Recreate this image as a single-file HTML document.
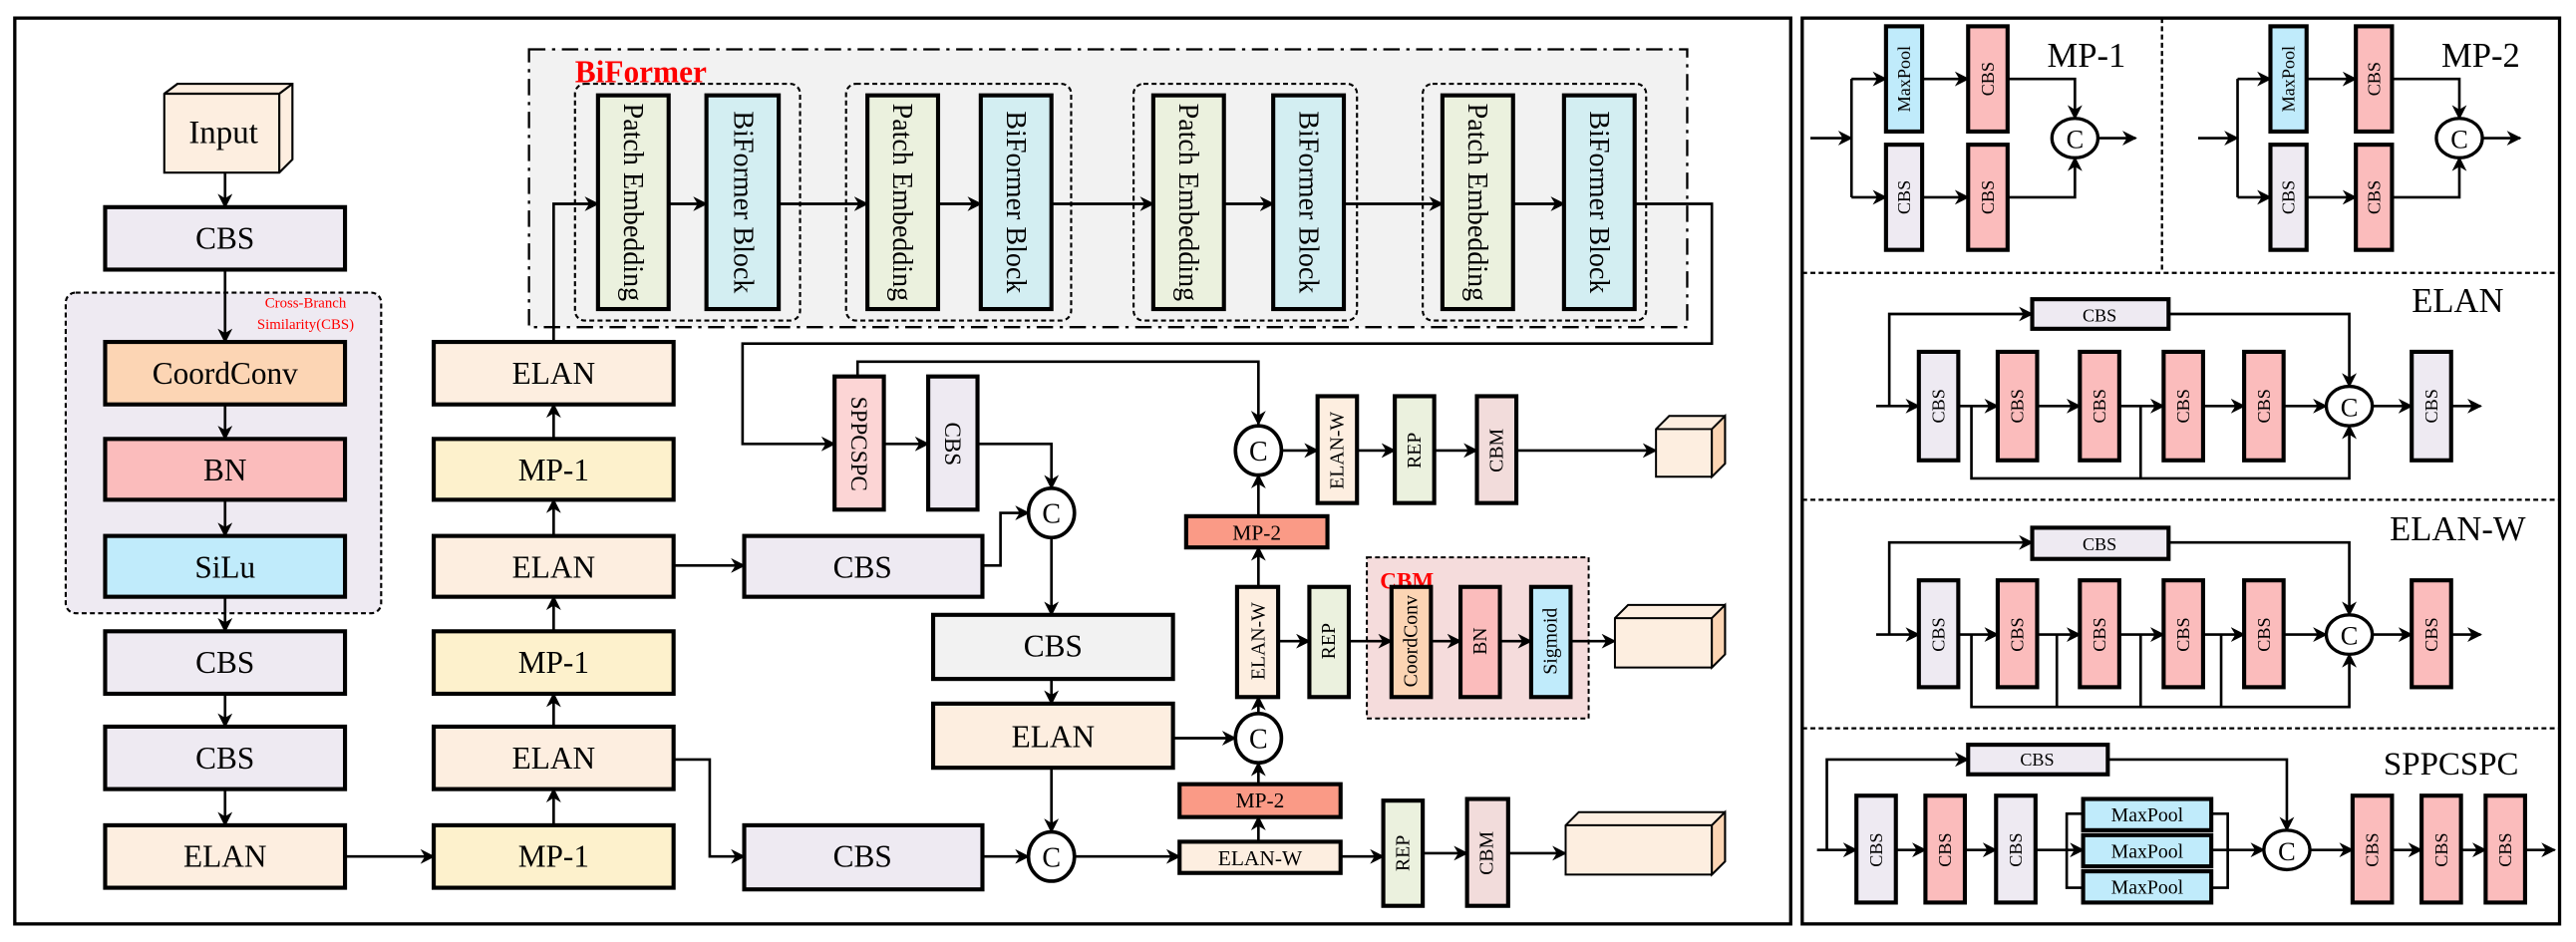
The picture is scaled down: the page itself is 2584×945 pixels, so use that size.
<!DOCTYPE html>
<html><head><meta charset="utf-8"><style>
html,body{margin:0;padding:0;background:#fff}
svg{display:block}
text{font-family:"Liberation Serif",serif;fill:#000}
</style></head><body>
<svg width="2584" height="945" viewBox="0 0 1568 573" preserveAspectRatio="none" xmlns="http://www.w3.org/2000/svg">
<defs>
<marker id="a" viewBox="0 0 10 10" refX="9" refY="5" markerWidth="5" markerHeight="5" orient="auto-start-reverse" markerUnits="userSpaceOnUse"><path d="M0,0 L10,5 L0,10 L3,5 z" fill="#000"/></marker>
<marker id="b" viewBox="0 0 10 10" refX="9" refY="5" markerWidth="9" markerHeight="9" orient="auto" markerUnits="userSpaceOnUse"><path d="M0,0 L10,5 L0,10 L3,5 z" fill="#000"/></marker>
</defs>
<style>
.bx{stroke:#000;stroke-width:2.5}
.l{stroke:#000;stroke-width:1.6;fill:none;marker-end:url(#b)}
.n{stroke:#000;stroke-width:1.6;fill:none}
.t{font-size:19px;text-anchor:middle;dominant-baseline:central}
.v{font-size:14px;text-anchor:middle;dominant-baseline:central}
.s{font-size:11px;text-anchor:middle;dominant-baseline:central}
</style>
<!-- frames -->
<rect x="9" y="11" width="1081" height="551" fill="none" stroke="#000" stroke-width="2"/>
<rect x="1097" y="11" width="461" height="551" fill="none" stroke="#000" stroke-width="2"/>

<!-- Left column -->
<path d="M100,57 L108,51 L178,51 L178,97 L170,105 L100,105 Z" fill="#fdeee0" stroke="#000" stroke-width="1.3"/>
<path d="M100,57 L170,57 L170,105 M170,57 L178,51" fill="none" stroke="#000" stroke-width="1.3"/>
<text x="136" y="81" class="t" style="font-size:20px">Input</text>
<line x1="137" y1="105" x2="137" y2="126" class="l"/>
<rect x="64" y="126" width="146" height="38" fill="#eeeaf2" class="bx"/><text x="137" y="145" class="t">CBS</text>
<rect x="40" y="178" width="192" height="195" rx="6" fill="#eeeaf2" stroke="#000" stroke-width="1.3" stroke-dasharray="3,2"/>
<text x="186" y="187" style="font-size:9px;fill:#f00;text-anchor:middle">Cross-Branch</text>
<text x="186" y="200" style="font-size:9px;fill:#f00;text-anchor:middle">Similarity(CBS)</text>
<line x1="137" y1="164" x2="137" y2="208" class="l"/>
<rect x="64" y="208" width="146" height="38" fill="#fcd5b4" class="bx"/><text x="137" y="227" class="t">CoordConv</text>
<line x1="137" y1="246" x2="137" y2="267" class="l"/>
<rect x="64" y="267" width="146" height="37" fill="#fbbcbc" class="bx"/><text x="137" y="286" class="t">BN</text>
<line x1="137" y1="304" x2="137" y2="326" class="l"/>
<rect x="64" y="326" width="146" height="37" fill="#c0ebfb" class="bx"/><text x="137" y="345" class="t">SiLu</text>
<line x1="137" y1="363" x2="137" y2="384" class="l"/>
<rect x="64" y="384" width="146" height="38" fill="#eeeaf2" class="bx"/><text x="137" y="403" class="t">CBS</text>
<line x1="137" y1="422" x2="137" y2="442" class="l"/>
<rect x="64" y="442" width="146" height="38" fill="#eeeaf2" class="bx"/><text x="137" y="461" class="t">CBS</text>
<line x1="137" y1="480" x2="137" y2="502" class="l"/>
<rect x="64" y="502" width="146" height="38" fill="#fdeee0" class="bx"/><text x="137" y="521" class="t">ELAN</text>
<line x1="210" y1="521" x2="264" y2="521" class="l"/>

<!-- Middle column -->
<rect x="264" y="208" width="146" height="38" fill="#fdeee0" class="bx"/><text x="337" y="227" class="t">ELAN</text>
<rect x="264" y="267" width="146" height="37" fill="#fdf1cc" class="bx"/><text x="337" y="286" class="t">MP-1</text>
<rect x="264" y="326" width="146" height="37" fill="#fdeee0" class="bx"/><text x="337" y="345" class="t">ELAN</text>
<rect x="264" y="384" width="146" height="38" fill="#fdf1cc" class="bx"/><text x="337" y="403" class="t">MP-1</text>
<rect x="264" y="442" width="146" height="38" fill="#fdeee0" class="bx"/><text x="337" y="461" class="t">ELAN</text>
<rect x="264" y="502" width="146" height="38" fill="#fdf1cc" class="bx"/><text x="337" y="521" class="t">MP-1</text>
<line x1="337" y1="502" x2="337" y2="480" class="l"/>
<line x1="337" y1="442" x2="337" y2="422" class="l"/>
<line x1="337" y1="384" x2="337" y2="363" class="l"/>
<line x1="337" y1="326" x2="337" y2="304" class="l"/>
<line x1="337" y1="267" x2="337" y2="246" class="l"/>

<!-- BiFormer -->
<rect x="322" y="30" width="705" height="169" fill="#f2f2f2" stroke="#000" stroke-width="1.4" stroke-dasharray="10,4,2,4"/>
<text x="350" y="50" style="font-size:19px;font-weight:bold;fill:#f00">BiFormer</text>
<g fill="none" stroke="#000" stroke-width="1.3" stroke-dasharray="3,2">
<rect x="350" y="51" width="137" height="144" rx="6"/>
<rect x="515" y="51" width="137" height="144" rx="6"/>
<rect x="690" y="51" width="136" height="144" rx="6"/>
<rect x="866" y="51" width="136" height="144" rx="6"/>
</g>
<g class="bx">
<rect x="364" y="58" width="43" height="130" fill="#ebf1de"/><rect x="430" y="58" width="44" height="130" fill="#d3eef2"/>
<rect x="528" y="58" width="43" height="130" fill="#ebf1de"/><rect x="597" y="58" width="43" height="130" fill="#d3eef2"/>
<rect x="702" y="58" width="43" height="130" fill="#ebf1de"/><rect x="775" y="58" width="43" height="130" fill="#d3eef2"/>
<rect x="878" y="58" width="43" height="130" fill="#ebf1de"/><rect x="952" y="58" width="43" height="130" fill="#d3eef2"/>
</g>
<g class="v" style="font-size:17px">
<text transform="translate(385,123) rotate(90)" class="v" style="font-size:17px">Patch Embedding</text>
<text transform="translate(452,123) rotate(90)" class="v" style="font-size:17px">BiFormer Block</text>
<text transform="translate(549,123) rotate(90)" class="v" style="font-size:17px">Patch Embedding</text>
<text transform="translate(618,123) rotate(90)" class="v" style="font-size:17px">BiFormer Block</text>
<text transform="translate(723,123) rotate(90)" class="v" style="font-size:17px">Patch Embedding</text>
<text transform="translate(796,123) rotate(90)" class="v" style="font-size:17px">BiFormer Block</text>
<text transform="translate(899,123) rotate(90)" class="v" style="font-size:17px">Patch Embedding</text>
<text transform="translate(973,123) rotate(90)" class="v" style="font-size:17px">BiFormer Block</text>
</g>
<path d="M337,208 L337,124 L364,124" class="l"/>
<line x1="407" y1="124" x2="430" y2="124" class="l"/>
<line x1="474" y1="124" x2="528" y2="124" class="l"/>
<line x1="571" y1="124" x2="597" y2="124" class="l"/>
<line x1="640" y1="124" x2="702" y2="124" class="l"/>
<line x1="745" y1="124" x2="775" y2="124" class="l"/>
<line x1="818" y1="124" x2="878" y2="124" class="l"/>
<line x1="921" y1="124" x2="952" y2="124" class="l"/>
<path d="M995,124 L1042,124 L1042,209 L452,209 L452,270 L508,270" class="l"/>

<!-- neck -->
<rect x="508" y="229" width="30" height="81" fill="#fcd5d5" class="bx"/>
<text transform="translate(523,270) rotate(90)" class="v">SPPCSPC</text>
<rect x="565" y="229" width="30" height="81" fill="#eeeaf2" class="bx"/>
<text transform="translate(580,270) rotate(90)" class="v">CBS</text>
<line x1="538" y1="270" x2="565" y2="270" class="l"/>
<path d="M522,229 L522,220 L766,220 L766,258" class="l"/>
<path d="M595,270 L640,270 L640,297" class="l"/>
<rect x="453" y="326" width="145" height="37" fill="#eeeaf2" class="bx"/><text x="525" y="345" class="t">CBS</text>
<line x1="410" y1="344" x2="453" y2="344" class="l"/>
<path d="M598,344 L609,344 L609,312 L626,312" class="l"/>
<ellipse cx="640" cy="312" rx="14" ry="15" fill="#fff" stroke="#000" stroke-width="2.2"/><text x="640" y="313" class="t" style="font-size:17px">C</text>
<line x1="640" y1="327" x2="640" y2="374" class="l"/>
<rect x="568" y="374" width="146" height="39" fill="#f2f2f2" class="bx"/><text x="641" y="393" class="t">CBS</text>
<line x1="640" y1="413" x2="640" y2="428" class="l"/>
<rect x="568" y="428" width="146" height="39" fill="#fdeee0" class="bx"/><text x="641" y="448" class="t">ELAN</text>
<line x1="714" y1="449" x2="752" y2="449" class="l"/>
<line x1="640" y1="467" x2="640" y2="506" class="l"/>
<path d="M410,462 L432,462 L432,521 L453,521" class="l"/>
<rect x="453" y="502" width="145" height="39" fill="#eeeaf2" class="bx"/><text x="525" y="521" class="t">CBS</text>
<line x1="598" y1="521" x2="626" y2="521" class="l"/>
<ellipse cx="640" cy="521" rx="14" ry="15" fill="#fff" stroke="#000" stroke-width="2.2"/><text x="640" y="522" class="t" style="font-size:17px">C</text>
<line x1="654" y1="521" x2="718" y2="521" class="l"/>
<rect x="718" y="512" width="98" height="19" fill="#fdeee0" class="bx"/><text x="767" y="522" class="v" style="font-size:13px">ELAN-W</text>
<line x1="816" y1="521" x2="842" y2="521" class="l"/>
<rect x="842" y="487" width="24" height="64" fill="#ebf1de" class="bx"/><text transform="translate(854,519) rotate(-90)" class="v" style="font-size:12px">REP</text>
<line x1="866" y1="519" x2="893" y2="519" class="l"/>
<rect x="893" y="486" width="25" height="65" fill="#f2dcdb" class="bx"/><text transform="translate(905,519) rotate(-90)" class="v" style="font-size:12px">CBM</text>
<line x1="918" y1="519" x2="953" y2="519" class="l"/>
<path d="M953,502 L961,494 L1050,494 L1050,524 L1042,532 L953,532 Z" fill="#fdeee0" stroke="#000" stroke-width="1.2"/>
<path d="M953,502 L1042,502 L1042,532 M1042,502 L1050,494" fill="none" stroke="#000" stroke-width="1.2"/>
<path d="M1042,502 L1050,494 L1050,524 L1042,532 Z" fill="#fcd5b4" stroke="#000" stroke-width="1.2"/>

<line x1="766" y1="512" x2="766" y2="497" class="l"/>
<rect x="718" y="477" width="98" height="20" fill="#fa9a86" class="bx"/><text x="767" y="487" class="v" style="font-size:13px">MP-2</text>
<line x1="766" y1="477" x2="766" y2="464" class="l"/>
<ellipse cx="766" cy="449" rx="14" ry="15" fill="#fff" stroke="#000" stroke-width="2.2"/><text x="766" y="450" class="t" style="font-size:17px">C</text>
<line x1="766" y1="434" x2="766" y2="424" class="l"/>
<rect x="753" y="357" width="25" height="67" fill="#fdeee0" class="bx"/><text transform="translate(766,390) rotate(-90)" class="v" style="font-size:12px">ELAN-W</text>
<line x1="766" y1="357" x2="766" y2="333" class="l"/>
<rect x="722" y="314" width="86" height="19" fill="#fa9a86" class="bx"/><text x="765" y="324" class="v" style="font-size:13px">MP-2</text>
<line x1="766" y1="314" x2="766" y2="289" class="l"/>
<ellipse cx="766" cy="274" rx="14" ry="15" fill="#fff" stroke="#000" stroke-width="2.2"/><text x="766" y="275" class="t" style="font-size:17px">C</text>
<line x1="780" y1="274" x2="802" y2="274" class="l"/>
<rect x="802" y="241" width="24" height="65" fill="#fdeee0" class="bx"/><text transform="translate(814,274) rotate(-90)" class="v" style="font-size:12px">ELAN-W</text>
<line x1="826" y1="274" x2="849" y2="274" class="l"/>
<rect x="849" y="241" width="24" height="65" fill="#ebf1de" class="bx"/><text transform="translate(861,274) rotate(-90)" class="v" style="font-size:12px">REP</text>
<line x1="873" y1="274" x2="899" y2="274" class="l"/>
<rect x="899" y="241" width="24" height="65" fill="#f2dcdb" class="bx"/><text transform="translate(911,274) rotate(-90)" class="v" style="font-size:12px">CBM</text>
<line x1="923" y1="274" x2="1008" y2="274" class="l"/>
<path d="M1008,261 L1016,253 L1050,253 L1050,282 L1042,290 L1008,290 Z" fill="#fdeee0" stroke="#000" stroke-width="1.2"/>
<path d="M1008,261 L1042,261 L1042,290" fill="none" stroke="#000" stroke-width="1.2"/>
<path d="M1042,261 L1050,253 L1050,282 L1042,290 Z" fill="#fcd5b4" stroke="#000" stroke-width="1.2"/>

<line x1="778" y1="390" x2="797" y2="390" class="l"/>
<rect x="797" y="357" width="24" height="67" fill="#ebf1de" class="bx"/><text transform="translate(809,390) rotate(-90)" class="v" style="font-size:12px">REP</text>
<rect x="832" y="339" width="135" height="98" fill="#f5dcdc" stroke="#000" stroke-width="1.2" stroke-dasharray="3,2"/>
<text x="840" y="358" style="font-size:14px;font-weight:bold;fill:#f00">CBM</text>
<line x1="821" y1="390" x2="847" y2="390" class="l"/>
<rect x="847" y="357" width="24" height="67" fill="#fcd5b4" class="bx"/><text transform="translate(859,390) rotate(-90)" class="v" style="font-size:12px">CoordConv</text>
<line x1="871" y1="390" x2="889" y2="390" class="l"/>
<rect x="889" y="357" width="24" height="67" fill="#fbbcbc" class="bx"/><text transform="translate(901,390) rotate(-90)" class="v" style="font-size:12px">BN</text>
<line x1="913" y1="390" x2="932" y2="390" class="l"/>
<rect x="932" y="357" width="24" height="67" fill="#c0ebfb" class="bx"/><text transform="translate(944,390) rotate(-90)" class="v" style="font-size:12px">Sigmoid</text>
<line x1="956" y1="390" x2="983" y2="390" class="l"/>
<path d="M983,376 L991,368 L1050,368 L1050,398 L1042,406 L983,406 Z" fill="#fdeee0" stroke="#000" stroke-width="1.2"/>
<path d="M983,376 L1042,376 L1042,406" fill="none" stroke="#000" stroke-width="1.2"/>
<path d="M1042,376 L1050,368 L1050,398 L1042,406 Z" fill="#fcd5b4" stroke="#000" stroke-width="1.2"/>

<!-- Right panel separators -->
<g stroke="#000" stroke-width="1.4" stroke-dasharray="3,2">
<line x1="1316" y1="11" x2="1316" y2="166"/>
<line x1="1097" y1="166" x2="1558" y2="166"/>
<line x1="1097" y1="304" x2="1558" y2="304"/>
<line x1="1097" y1="443" x2="1558" y2="443"/>
</g>

<!-- MP-1 -->
<text x="1270" y="34" class="t" style="font-size:21px">MP-1</text>
<line x1="1102" y1="84" x2="1127" y2="84" class="l"/>
<path d="M1127,120 L1127,48" class="n"/>
<line x1="1127" y1="48" x2="1148" y2="48" class="l"/>
<line x1="1127" y1="120" x2="1148" y2="120" class="l"/>
<rect x="1148" y="16" width="22" height="64" fill="#c0ebfb" class="bx"/><text transform="translate(1159,48) rotate(-90)" class="s">MaxPool</text>
<rect x="1198" y="16" width="24" height="64" fill="#fbbcbc" class="bx"/><text transform="translate(1210,48) rotate(-90)" class="s">CBS</text>
<rect x="1148" y="88" width="22" height="64" fill="#eeeaf2" class="bx"/><text transform="translate(1159,120) rotate(-90)" class="s">CBS</text>
<rect x="1198" y="88" width="24" height="64" fill="#fbbcbc" class="bx"/><text transform="translate(1210,120) rotate(-90)" class="s">CBS</text>
<line x1="1170" y1="48" x2="1198" y2="48" class="l"/>
<line x1="1170" y1="120" x2="1198" y2="120" class="l"/>
<path d="M1222,48 L1263,48 L1263,72" class="l"/>
<path d="M1222,120 L1263,120 L1263,96" class="l"/>
<ellipse cx="1263" cy="84" rx="14" ry="12" fill="#fff" stroke="#000" stroke-width="2"/><text x="1263" y="85" class="t" style="font-size:16px">C</text>
<line x1="1277" y1="84" x2="1300" y2="84" class="l"/>

<!-- MP-2 -->
<text x="1510" y="34" class="t" style="font-size:21px">MP-2</text>
<line x1="1338" y1="84" x2="1362" y2="84" class="l"/>
<path d="M1362,120 L1362,48" class="n"/>
<line x1="1362" y1="48" x2="1382" y2="48" class="l"/>
<line x1="1362" y1="120" x2="1382" y2="120" class="l"/>
<rect x="1382" y="16" width="22" height="64" fill="#c0ebfb" class="bx"/><text transform="translate(1393,48) rotate(-90)" class="s">MaxPool</text>
<rect x="1434" y="16" width="22" height="64" fill="#fbbcbc" class="bx"/><text transform="translate(1445,48) rotate(-90)" class="s">CBS</text>
<rect x="1382" y="88" width="22" height="64" fill="#eeeaf2" class="bx"/><text transform="translate(1393,120) rotate(-90)" class="s">CBS</text>
<rect x="1434" y="88" width="22" height="64" fill="#fbbcbc" class="bx"/><text transform="translate(1445,120) rotate(-90)" class="s">CBS</text>
<line x1="1404" y1="48" x2="1434" y2="48" class="l"/>
<line x1="1404" y1="120" x2="1434" y2="120" class="l"/>
<path d="M1456,48 L1497,48 L1497,72" class="l"/>
<path d="M1456,120 L1497,120 L1497,96" class="l"/>
<ellipse cx="1497" cy="84" rx="14" ry="12" fill="#fff" stroke="#000" stroke-width="2"/><text x="1497" y="85" class="t" style="font-size:16px">C</text>
<line x1="1511" y1="84" x2="1534" y2="84" class="l"/>

<!-- ELAN -->
<text x="1496" y="183" class="t" style="font-size:21px">ELAN</text>
<rect x="1237" y="182" width="83" height="18" fill="#eeeaf2" class="bx"/><text x="1278" y="192" class="s">CBS</text>
<path d="M1150,247 L1150,191 L1237,191" class="l"/>
<path d="M1320,191 L1430,191 L1430,235" class="l"/>
<line x1="1142" y1="247" x2="1168" y2="247" class="l"/>
<g class="bx">
<rect x="1168" y="214" width="24" height="66" fill="#eeeaf2"/>
<rect x="1216" y="214" width="24" height="66" fill="#fbbcbc"/>
<rect x="1266" y="214" width="24" height="66" fill="#fbbcbc"/>
<rect x="1317" y="214" width="24" height="66" fill="#fbbcbc"/>
<rect x="1366" y="214" width="24" height="66" fill="#fbbcbc"/>
<rect x="1468" y="214" width="24" height="66" fill="#eeeaf2"/>
</g>
<text transform="translate(1180,247) rotate(-90)" class="s">CBS</text>
<text transform="translate(1228,247) rotate(-90)" class="s">CBS</text>
<text transform="translate(1278,247) rotate(-90)" class="s">CBS</text>
<text transform="translate(1329,247) rotate(-90)" class="s">CBS</text>
<text transform="translate(1378,247) rotate(-90)" class="s">CBS</text>
<text transform="translate(1480,247) rotate(-90)" class="s">CBS</text>
<line x1="1192" y1="247" x2="1216" y2="247" class="l"/>
<line x1="1240" y1="247" x2="1266" y2="247" class="l"/>
<line x1="1290" y1="247" x2="1317" y2="247" class="l"/>
<line x1="1341" y1="247" x2="1366" y2="247" class="l"/>
<line x1="1390" y1="247" x2="1416" y2="247" class="l"/>
<path d="M1200,247 L1200,291 L1430,291 L1430,259" class="l"/>
<line x1="1303" y1="247" x2="1303" y2="291" class="n"/>
<ellipse cx="1430" cy="247" rx="14" ry="12" fill="#fff" stroke="#000" stroke-width="2"/><text x="1430" y="248" class="t" style="font-size:16px">C</text>
<line x1="1444" y1="247" x2="1468" y2="247" class="l"/>
<line x1="1492" y1="247" x2="1510" y2="247" class="l"/>

<!-- ELAN-W -->
<text x="1496" y="322" class="t" style="font-size:21px">ELAN-W</text>
<rect x="1237" y="321" width="83" height="19" fill="#eeeaf2" class="bx"/><text x="1278" y="331" class="s">CBS</text>
<path d="M1150,386 L1150,330 L1237,330" class="l"/>
<path d="M1320,330 L1430,330 L1430,374" class="l"/>
<line x1="1142" y1="386" x2="1168" y2="386" class="l"/>
<g class="bx">
<rect x="1168" y="353" width="24" height="65" fill="#eeeaf2"/>
<rect x="1216" y="353" width="24" height="65" fill="#fbbcbc"/>
<rect x="1266" y="353" width="24" height="65" fill="#fbbcbc"/>
<rect x="1317" y="353" width="24" height="65" fill="#fbbcbc"/>
<rect x="1366" y="353" width="24" height="65" fill="#fbbcbc"/>
<rect x="1468" y="353" width="24" height="65" fill="#fbbcbc"/>
</g>
<text transform="translate(1180,386) rotate(-90)" class="s">CBS</text>
<text transform="translate(1228,386) rotate(-90)" class="s">CBS</text>
<text transform="translate(1278,386) rotate(-90)" class="s">CBS</text>
<text transform="translate(1329,386) rotate(-90)" class="s">CBS</text>
<text transform="translate(1378,386) rotate(-90)" class="s">CBS</text>
<text transform="translate(1480,386) rotate(-90)" class="s">CBS</text>
<line x1="1192" y1="386" x2="1216" y2="386" class="l"/>
<line x1="1240" y1="386" x2="1266" y2="386" class="l"/>
<line x1="1290" y1="386" x2="1317" y2="386" class="l"/>
<line x1="1341" y1="386" x2="1366" y2="386" class="l"/>
<line x1="1390" y1="386" x2="1416" y2="386" class="l"/>
<path d="M1200,386 L1200,430 L1430,430 L1430,398" class="l"/>
<line x1="1252" y1="386" x2="1252" y2="430" class="n"/>
<line x1="1303" y1="386" x2="1303" y2="430" class="n"/>
<line x1="1352" y1="386" x2="1352" y2="430" class="n"/>
<ellipse cx="1430" cy="386" rx="14" ry="12" fill="#fff" stroke="#000" stroke-width="2"/><text x="1430" y="387" class="t" style="font-size:16px">C</text>
<line x1="1444" y1="386" x2="1468" y2="386" class="l"/>
<line x1="1492" y1="386" x2="1510" y2="386" class="l"/>

<!-- SPPCSPC -->
<text x="1492" y="465" class="t" style="font-size:20px">SPPCSPC</text>
<rect x="1198" y="453" width="85" height="18" fill="#eeeaf2" class="bx"/><text x="1240" y="462" class="s">CBS</text>
<path d="M1112,517 L1112,462 L1198,462" class="l"/>
<path d="M1283,462 L1392,462 L1392,505" class="l"/>
<line x1="1106" y1="517" x2="1130" y2="517" class="l"/>
<g class="bx">
<rect x="1130" y="484" width="24" height="65" fill="#eeeaf2"/>
<rect x="1172" y="484" width="24" height="65" fill="#fbbcbc"/>
<rect x="1215" y="484" width="24" height="65" fill="#eeeaf2"/>
<rect x="1268" y="486" width="78" height="19" fill="#c0ebfb"/>
<rect x="1268" y="508" width="78" height="19" fill="#c0ebfb"/>
<rect x="1268" y="530" width="78" height="19" fill="#c0ebfb"/>
<rect x="1432" y="484" width="24" height="65" fill="#fbbcbc"/>
<rect x="1474" y="484" width="24" height="65" fill="#fbbcbc"/>
<rect x="1513" y="484" width="24" height="65" fill="#fbbcbc"/>
</g>
<text transform="translate(1142,517) rotate(-90)" class="s">CBS</text>
<text transform="translate(1184,517) rotate(-90)" class="s">CBS</text>
<text transform="translate(1227,517) rotate(-90)" class="s">CBS</text>
<text transform="translate(1444,517) rotate(-90)" class="s">CBS</text>
<text transform="translate(1486,517) rotate(-90)" class="s">CBS</text>
<text transform="translate(1525,517) rotate(-90)" class="s">CBS</text>
<text x="1307" y="496" class="s" style="font-size:12px">MaxPool</text>
<text x="1307" y="518" class="s" style="font-size:12px">MaxPool</text>
<text x="1307" y="540" class="s" style="font-size:12px">MaxPool</text>
<line x1="1154" y1="517" x2="1172" y2="517" class="l"/>
<line x1="1196" y1="517" x2="1215" y2="517" class="l"/>
<line x1="1239" y1="517" x2="1268" y2="517" class="l"/>
<path d="M1258,517 L1258,495 L1268,495 M1258,517 L1258,540 L1268,540 M1346,495 L1356,495 L1356,540 L1346,540" class="n"/>
<line x1="1346" y1="517" x2="1378" y2="517" class="l"/>
<ellipse cx="1392" cy="517" rx="14" ry="12" fill="#fff" stroke="#000" stroke-width="2"/><text x="1392" y="518" class="t" style="font-size:16px">C</text>
<line x1="1406" y1="517" x2="1432" y2="517" class="l"/>
<line x1="1456" y1="517" x2="1474" y2="517" class="l"/>
<line x1="1498" y1="517" x2="1513" y2="517" class="l"/>
<line x1="1537" y1="517" x2="1555" y2="517" class="l"/>
</svg>
</body></html>
